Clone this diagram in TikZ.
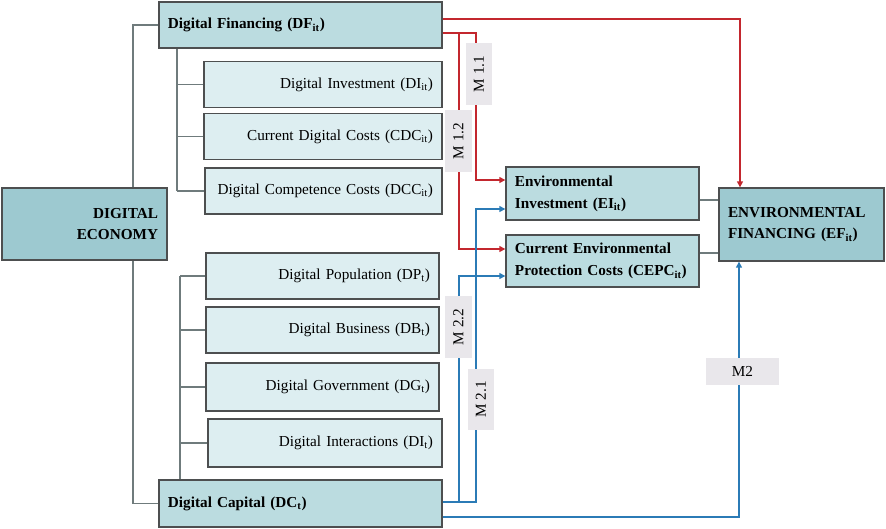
\documentclass[tikz,border=0pt]{standalone}
\usepackage{fontspec}
\setmainfont{Liberation Serif}
\usetikzlibrary{arrows.meta}
\definecolor{darkfill}{HTML}{9DC9D0}
\definecolor{midfill}{HTML}{BBDCE0}
\definecolor{lightfill}{HTML}{DDEEF1}
\definecolor{labfill}{HTML}{E9E7EB}
\definecolor{boxline}{HTML}{4D4F50}
\definecolor{treeline}{HTML}{6F7B7C}
\definecolor{redline}{HTML}{C3272E}
\definecolor{blueline}{HTML}{2B7BB6}

\begin{document}
\begin{tikzpicture}[x=0.03cm, y=-0.03cm,
  every node/.style={draw=boxline, line width=1.1pt, font=\fontsize{13}{17}\selectfont, inner xsep=0.27cm, inner ysep=0pt},
  darkbox/.style={fill=darkfill, font=\fontsize{13}{18}\selectfont\bfseries},
  midbox/.style={fill=midfill, font=\fontsize{13}{19}\selectfont\bfseries, align=left},
  subbox/.style={fill=lightfill, align=right, minimum height=1.38cm},
  mlabel/.style={draw=none, fill=labfill, inner sep=0pt},
  tree/.style={treeline, line width=0.9pt},
  redarr/.style={redline, line width=0.9pt, -{Triangle[length=5pt,width=5pt]}},
  bluarr/.style={blueline, line width=0.9pt, -{Triangle[length=5pt,width=5pt]}}]

  \useasboundingbox (0,0) rectangle (886,529);

  \node[darkbox, align=right, text width=4.41cm, minimum height=2.16cm] (DE) at (84.5,224) {DIGITAL\\ECONOMY};
  \node[midbox, text width=7.95cm, minimum height=1.38cm] (DF) at (300.5,25) {Digital Financing (DF\textsubscript{it})};
  \node[subbox, text width=6.6cm] (DI) at (323,84.5) {Digital Investment (DI\textsubscript{it})};
  \node[subbox, text width=6.6cm] (CDC) at (323,136.5) {Current Digital Costs (CDC\textsubscript{it})};
  \node[subbox, text width=6.57cm] (DCC) at (323.5,191) {Digital Competence Costs (DCC\textsubscript{it})};
  \node[subbox, text width=6.45cm] (DP) at (322.5,276) {Digital Population (DP\textsubscript{t})};
  \node[subbox, text width=6.45cm] (DB) at (322.5,330) {Digital Business (DB\textsubscript{t})};
  \node[subbox, text width=6.45cm, minimum height=1.44cm] (DG) at (322.5,387) {Digital Government (DG\textsubscript{t})};
  \node[subbox, text width=6.48cm, minimum height=1.44cm] (DInt) at (325,443) {Digital Interactions (DI\textsubscript{t})};
  \node[midbox, text width=7.95cm, minimum height=1.41cm] (DC) at (300.5,503.5) {Digital Capital (DC\textsubscript{t})};
  \node[midbox, text width=5.25cm, minimum height=1.59cm] (EI) at (602.5,193.5) {Environmental\\Investment (EI\textsubscript{it})};
  \node[midbox, text width=5.25cm, minimum height=1.56cm] (CEPC) at (602.5,261) {Current Environmental\\Protection Costs (CEPC\textsubscript{it})};
  \node[darkbox, align=left, text width=4.41cm, minimum height=2.19cm] (EF) at (801.5,224.5) {ENVIRONMENTAL\\FINANCING (EF\textsubscript{it})};

  \coordinate (etrunk) at (133,0);
  \coordinate (fbus) at (177,0);
  \coordinate (cbus) at (180,0);
  \coordinate (eirow) at (0,200);
  \coordinate (cepcrow) at (0,253);

  \draw[tree] (DF.west) -| (etrunk |- DE.north);
  \draw[tree] (DC.west) -| (etrunk |- DE.south);
  \draw[tree] (fbus |- DF.south) -- (fbus |- DCC.west);
  \foreach \n in {DI,CDC,DCC} \draw[tree] (fbus |- \n.west) -- (\n.west);
  \draw[tree] (cbus |- DP.west) -- (cbus |- DC.north);
  \foreach \n in {DP,DB,DG,DInt} \draw[tree] (cbus |- \n.west) -- (\n.west);
  \draw[tree] (EI.east |- eirow) -- (EF.west |- eirow);
  \draw[tree] (CEPC.east |- cepcrow) -- (EF.west |- cepcrow);

  \coordinate (redA) at (740,19);
  \coordinate (redB) at (476,33);
  \coordinate (redB2) at (476,180);
  \coordinate (redC) at (459,33);
  \coordinate (redC2) at (459,249);
  \draw[redarr] (DF.east |- redA) -- (redA) -- (redA |- EF.north);
  \draw[redarr] (DF.east |- redB) -- (redB) -- (redB2) -- (EI.west |- redB2);
  \draw[redarr] (redC) -- (redC2) -- (CEPC.west |- redC2);

  \coordinate (bluA) at (476,502);
  \coordinate (bluA2) at (476,209);
  \coordinate (bluB) at (459,502);
  \coordinate (bluB2) at (459,276);
  \coordinate (bluC) at (739,517);
  \draw[bluarr] (DC.east |- bluA) -- (bluA) -- (bluA2) -- (EI.west |- bluA2);
  \draw[bluarr] (bluB) -- (bluB2) -- (CEPC.west |- bluB2);
  \draw[bluarr] (DC.east |- bluC) -- (bluC) -- (bluC |- EF.south);

  \node[mlabel, rotate=90, minimum width=1.86cm, minimum height=0.8cm] (M11) at (479,74) {M 1.1};
  \node[mlabel, rotate=90, minimum width=1.86cm, minimum height=0.81cm] (M12) at (458.5,141) {M 1.2};
  \node[mlabel, rotate=90, minimum width=1.86cm, minimum height=0.81cm] (M22) at (458.5,327) {M 2.2};
  \node[mlabel, rotate=90, minimum width=1.83cm, minimum height=0.8cm] (M21) at (481,399.5) {M 2.1};
  \node[mlabel, minimum width=2.19cm, minimum height=0.81cm] (M2) at (742.5,371.5) {M2};
\end{tikzpicture}
\end{document}
